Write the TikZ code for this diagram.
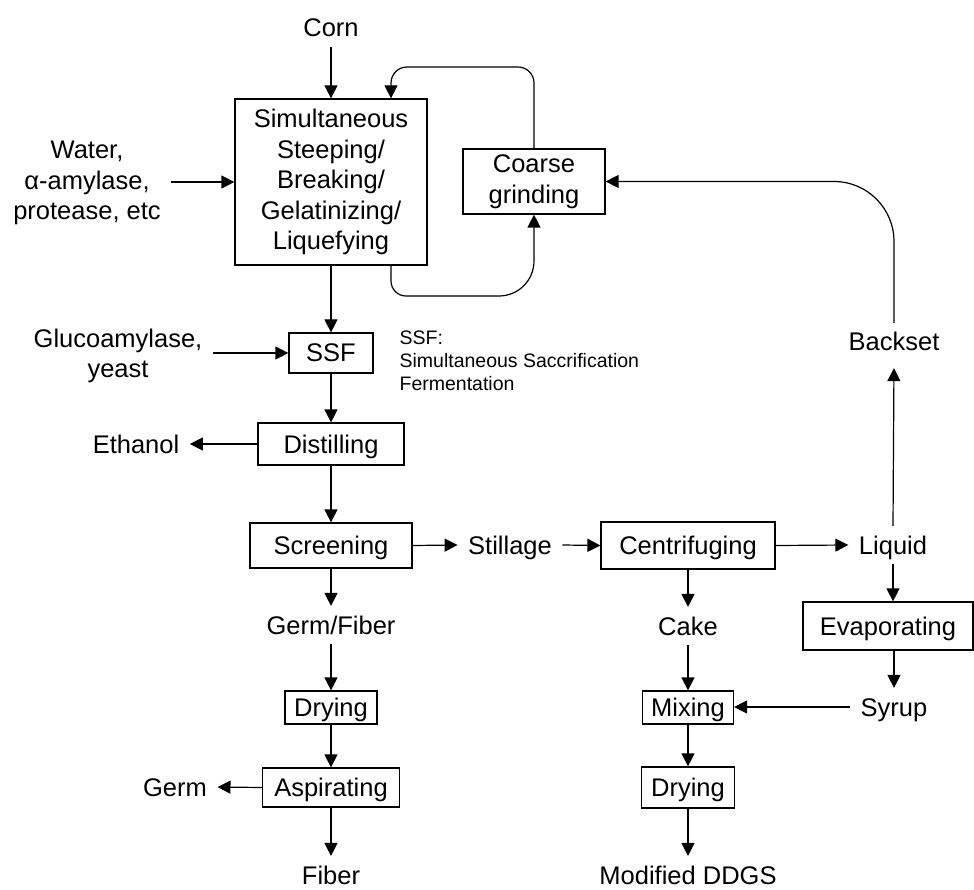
\documentclass[tikz,border=0pt]{standalone}
\usepackage{fontspec}
\setmainfont{Liberation Sans}
\usetikzlibrary{arrows.meta}
\begin{document}
\begin{tikzpicture}[x=1pt,y=-1pt,
  font=\fontsize{25.5}{30.5}\selectfont,
  line width=1.2pt,
  box/.style={draw, line width=1.2pt, inner sep=0pt, align=center},
  sbox/.style={box, text height=18.5pt, text depth=0.5pt},
  lbl/.style={inner xsep=10pt, inner ysep=9pt, text height=18.5pt, text depth=0.5pt},
  multi/.style={inner xsep=10pt, inner ysep=0pt, align=center},
  arr/.style={-{Triangle[length=13pt,width=13pt]}, line width=1.2pt}]
\useasboundingbox (0,0) rectangle (974,890);

% process boxes
\node[box, minimum width=192pt, minimum height=166pt] (main) at (331,182)
  {Simultaneous\\Steeping/\\Breaking/\\Gelatinizing/\\Liquefying};
\node[box, minimum width=142pt, minimum height=65pt] (coarse) at (534,181.5) {Coarse\\grinding};
\node[sbox, minimum width=84pt, minimum height=40pt] (ssf) at (331,353) {SSF};
\node[sbox, minimum width=146pt, minimum height=42pt] (dist) at (331,444) {Distilling};
\node[sbox, minimum width=162pt, minimum height=45pt] (screen) at (331,545.5) {Screening};
\node[sbox, minimum width=174pt, minimum height=47pt] (centr) at (688,545.5) {Centrifuging};
\node[sbox, minimum width=170pt, minimum height=48pt] (evap) at (888,626) {Evaporating};
\node[sbox, minimum width=92pt, minimum height=33pt] (dry1) at (331,707.5) {Drying};
\node[sbox, minimum width=137pt, minimum height=39pt] (asp) at (331,787.5) {Aspirating};
\node[sbox, minimum width=91pt, minimum height=33pt] (mix) at (688,707.5) {Mixing};
\node[sbox, minimum width=93pt, minimum height=41pt] (dry2) at (688,787.5) {Drying};

% labels
\node[lbl] (corn) at (331,28) {Corn};
\node[multi] (water) at (87,183) {Water,\\α-amylase,\\protease, etc};
\node[multi] (gluco) at (118,356) {Glucoamylase,\\yeast};
\node[anchor=north west, inner sep=0pt, align=left, font=\fontsize{19.5}{23}\selectfont] (note) at (399,330)
  {SSF:\\Simultaneous Saccrification\\Fermentation};
\node[lbl] (ethanol) at (136,444) {Ethanol};
\node[lbl] (still) at (510,545) {Stillage};
\node[lbl] (liquid) at (893,545) {Liquid};
\node[lbl] (backset) at (894,342) {Backset};
\node[lbl] (gf) at (331,625) {Germ/Fiber};
\node[lbl] (cake) at (688,626) {Cake};
\node[lbl] (syrup) at (894,707) {Syrup};
\node[lbl] (germ) at (175,787) {Germ};
\node[lbl] (fiber) at (331,875) {Fiber};
\node[lbl] (ddgs) at (688,875) {Modified DDGS};

\coordinate (ltop) at (391,67);
\coordinate (lbot) at (391,296);

% connectors
\draw[arr] (corn.south) -- (main.north);
\draw[arr] (water.east |- main.west) -- (main.west);
\draw[arr, rounded corners=16pt] (coarse.north) |- (ltop) -- (ltop |- main.north);
\draw[arr, rounded corners=15pt] (lbot |- main.south) -- (lbot) [rounded corners=35pt] -| (coarse.south);
\draw[arr] (main.south) -- (ssf.north);
\draw[arr] (gluco.east |- ssf.west) -- (ssf.west);
\draw[arr] (ssf.south) -- (dist.north);
\draw[arr] (dist.west) -- (ethanol.east);
\draw[arr] (dist.south) -- (screen.north);
\draw[arr] (screen.east) -- (still.west);
\draw[arr] (still.east) -- (centr.west);
\draw[arr] (centr.east) -- (liquid.west);
\draw[arr, shorten >=7pt] (liquid.north) -- (backset.south);
\draw[arr, rounded corners=60pt] (backset.north) |- (coarse.east);
\draw[arr] (liquid.south) -- (liquid.south |- evap.north);
\draw[arr] (syrup.north |- evap.south) -- (syrup.north);
\draw[arr] (syrup.west) -- (syrup.west -| mix.east);
\draw[arr] (centr.south) -- (cake.north);
\draw[arr] (cake.south) -- (mix.north);
\draw[arr] (mix.south) -- (dry2.north);
\draw[arr] (dry2.south) -- (ddgs.north);
\draw[arr] (screen.south) -- (gf.north);
\draw[arr] (gf.south) -- (dry1.north);
\draw[arr] (dry1.south) -- (asp.north);
\draw[arr] (asp.west) -- (germ.east);
\draw[arr] (asp.south) -- (fiber.north);
\end{tikzpicture}
\end{document}
